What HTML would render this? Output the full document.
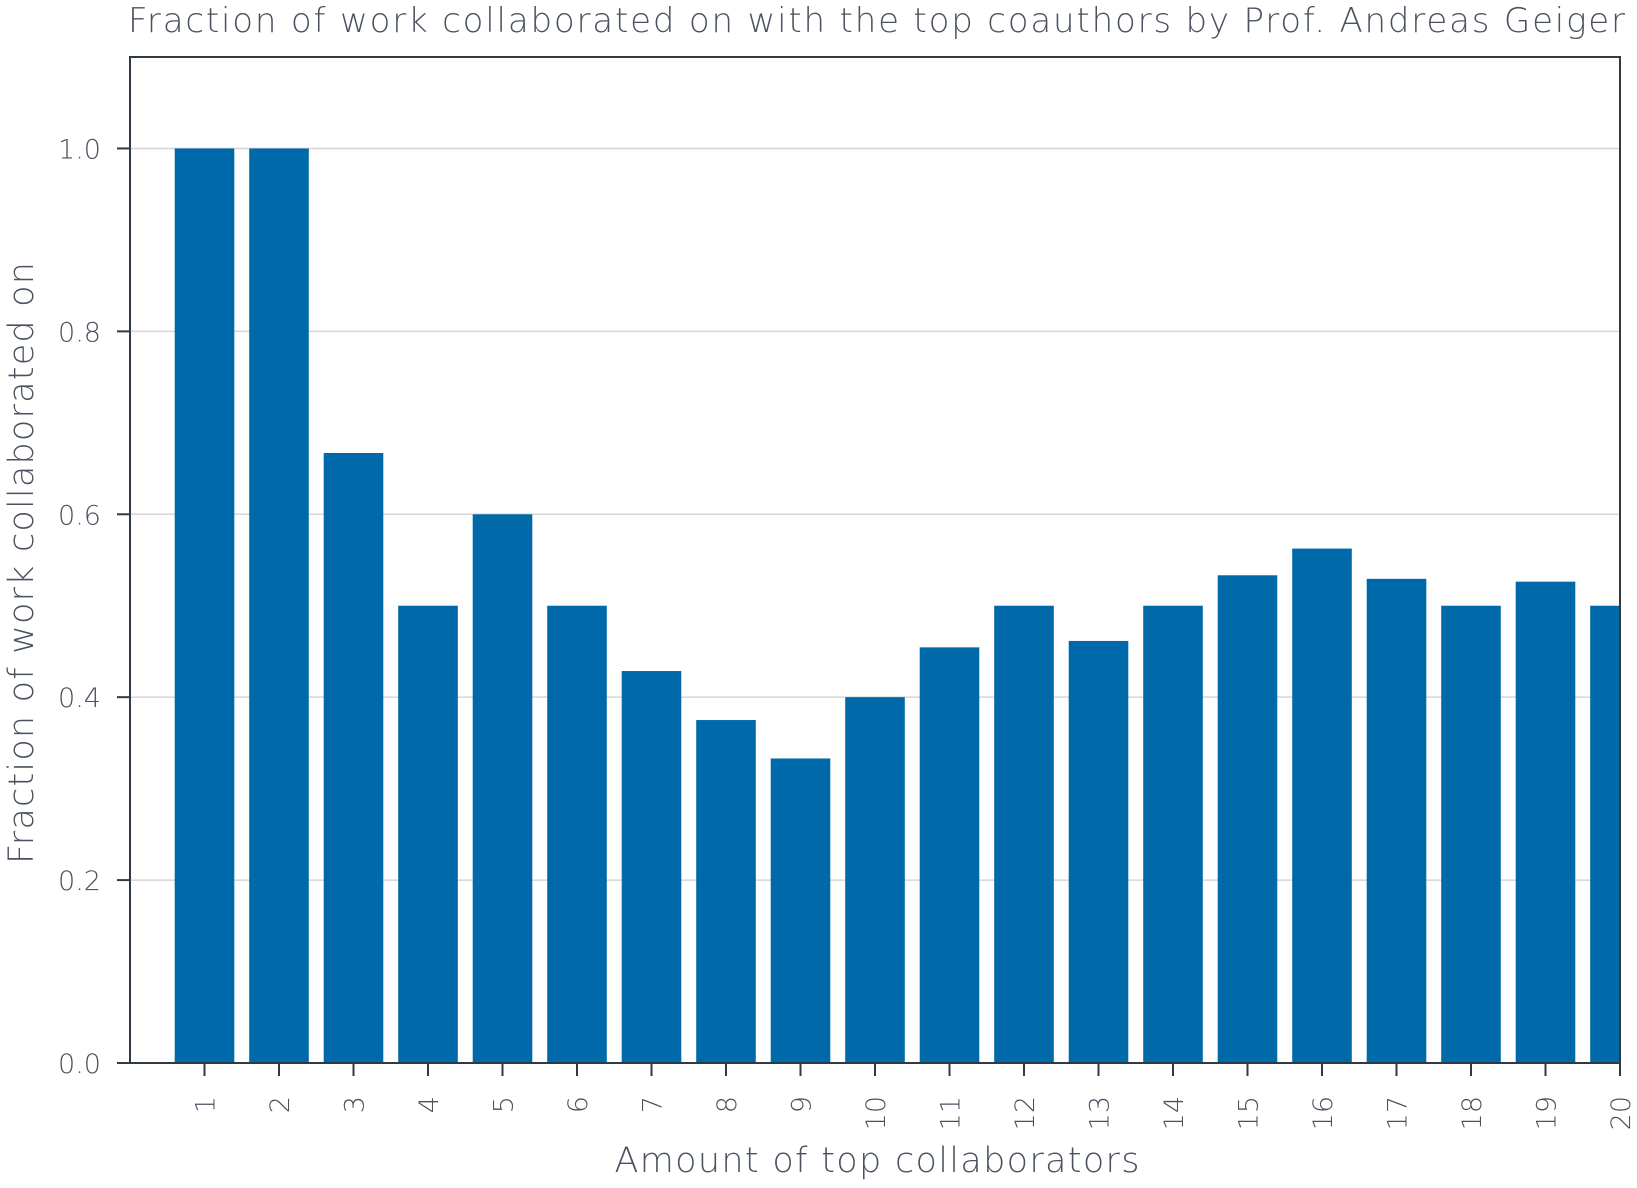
<!DOCTYPE html>
<html><head><meta charset="utf-8"><style>
body{margin:0;background:#fff}
svg text{font-family:"DejaVu Sans","Liberation Sans",sans-serif;fill:#4a5260}
</style></head><body>
<svg id="chart" width="1637" height="1183" xmlns="http://www.w3.org/2000/svg">
<text x="128" y="32" font-size="34" font-weight="300" textLength="1497">Fraction of work collaborated on with the top coauthors by Prof. Andreas Geiger</text>
<g id="grid"></g><g id="bars"></g><g id="axes"></g>
<text transform="translate(33,563) rotate(-90)" text-anchor="middle" font-size="35" font-weight="300" textLength="602">Fraction of work collaborated on</text>
<text x="877" y="1172" text-anchor="middle" font-size="35" font-weight="300" textLength="525">Amount of top collaborators</text>
</svg>
<script>
const categories=[1,2,3,4,5,6,7,8,9,10,11,12,13,14,15,16,17,18,19,20];
const values=[1,1,0.667,0.5,0.6,0.5,0.4286,0.375,0.333,0.4,0.4545,0.5,0.4615,0.5,0.5333,0.5625,0.5294,0.5,0.5263,0.5];
const yTicks=[0,0.2,0.4,0.6,0.8,1.0];
const yTickLabels=["0.0","0.2","0.4","0.6","0.8","1.0"];
const NS="http://www.w3.org/2000/svg";
const L=130,R=1620,T=57,B=1063;
const xMin=0,xMax=20,yMin=0,yMax=1.1;
const xs=v=>L+(v-xMin)/(xMax-xMin)*(R-L);
const ys=v=>B-(v-yMin)/(yMax-yMin)*(B-T);
function mk(tag,attrs,parent){const e=document.createElementNS(NS,tag);for(const k in attrs)e.setAttribute(k,attrs[k]);parent.appendChild(e);return e;}
const grid=document.getElementById('grid'),bars=document.getElementById('bars'),axes=document.getElementById('axes');
yTicks.forEach((t,i)=>{
 if(t>0){const g=mk('line',{x1:L,x2:R,y1:ys(t),y2:ys(t),stroke:'#d6d6d6','stroke-width':1.5},grid);
 
 }
 const tk=mk('line',{x1:L-13,x2:L,y1:ys(t),y2:ys(t),stroke:'#2f3a45','stroke-width':2},axes);
 
 
 const lb=mk('text',{x:L-29,y:ys(t)+10,'text-anchor':'end','font-size':27,'font-weight':300},axes);
 lb.textContent=yTickLabels[i];
 
 
});
const bw=(R-L)/(xMax-xMin)*0.8;
categories.forEach((c,i)=>{
 const x0=Math.max(L,xs(c)-bw/2),x1=Math.min(R,xs(c)+bw/2);
 const r=mk('rect',{x:x0,y:ys(values[i]),width:x1-x0,height:ys(0)-ys(values[i]),fill:'#0069aa'},bars);
 
 
 const tk=mk('line',{x1:xs(c),x2:xs(c),y1:B,y2:B+13,stroke:'#2f3a45','stroke-width':2},axes);
 
 
 const lb=mk('text',{transform:`translate(${xs(c)+10},1096) rotate(-90)`,'text-anchor':'end','font-size':27,'font-weight':300},axes);
 lb.textContent=String(c);
 
 
});
const fr=mk('rect',{x:L,y:T,width:R-L,height:B-T,fill:'none',stroke:'#2f3a45','stroke-width':2},axes);


</script>
</body></html>
